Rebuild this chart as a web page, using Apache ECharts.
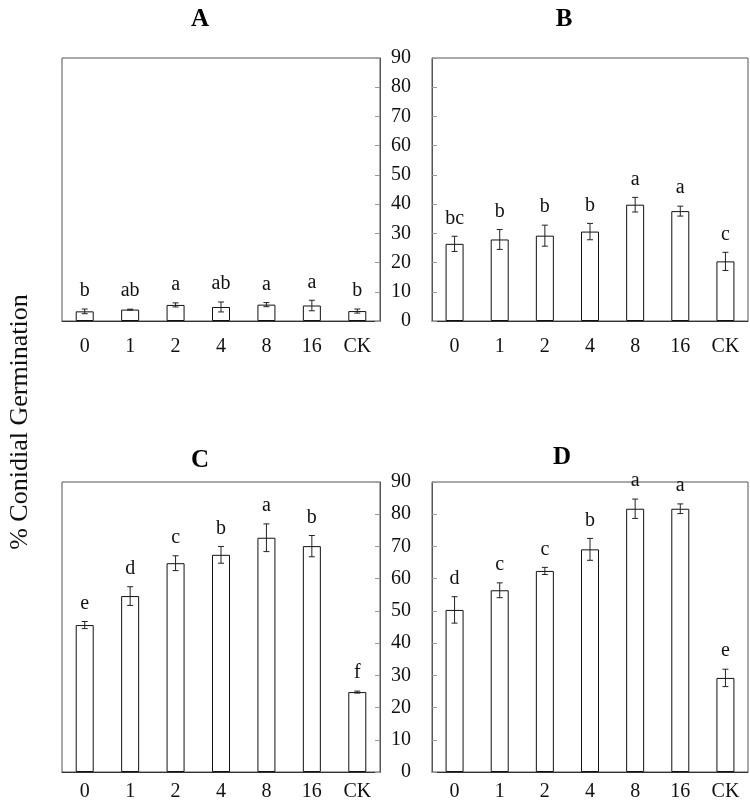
<!DOCTYPE html>
<html><head><meta charset="utf-8">
<script src="https://cdn.jsdelivr.net/npm/echarts@6/dist/echarts.min.js"></script>
<style>html,body{margin:0;padding:0;background:#fff}#c{width:750px;height:810px}</style>
</head><body><div id="c"></div>
<script>
const categories = ['0','1','2','4','8','16','CK'];
const yTicks = [0, 90, 10];

const valuesA = [3.3, 3.9, 5.5, 4.8, 5.6, 5.3, 3.4];
const errorsA = [0.8, 0.15, 0.7, 1.7, 0.7, 1.8, 0.7];
const lettersA = ['b','ab','a','ab','a','a','b'];

const valuesB = [26.4, 27.9, 29.2, 30.6, 39.8, 37.6, 20.4];
const errorsB = [2.6, 3.4, 3.6, 2.8, 2.5, 1.7, 3.1];
const lettersB = ['bc','b','b','b','a','a','c'];

const valuesC = [45.6, 54.6, 64.8, 67.4, 72.7, 70.1, 24.8];
const errorsC = [1.1, 2.9, 2.3, 2.6, 4.3, 3.3, 0.3];
const lettersC = ['e','d','c','b','a','b','f'];

const valuesD = [50.3, 56.4, 62.4, 69.1, 81.7, 81.7, 29.2];
const errorsD = [4.1, 2.3, 1.1, 3.4, 3.0, 1.5, 2.7];
const lettersD = ['d','c','c','b','a','a','e'];

const titles = ['A','B','C','D'];
const yName = '% Conidial Germination';
const FONT = '"Liberation Serif", "DejaVu Serif", serif';

const grids = [
  {left: 62, top: 58, width: 318, height: 263},
  {left: 432, top: 58, width: 316, height: 263},
  {left: 62, top: 482, width: 318, height: 290},
  {left: 432, top: 482, width: 316, height: 290}
];
const titlePos = [[200, 32], [564, 32], [200, 473], [562, 470]];
const labelMargin = [16, 16, 10, 10];
const panels = [
  [valuesA, errorsA, lettersA],
  [valuesB, errorsB, lettersB],
  [valuesC, errorsC, lettersC],
  [valuesD, errorsD, lettersD]
];

function errRender(letters) {
  return function (params, api) {
    const i = api.value(0), v = api.value(1), e = api.value(2);
    const t = api.coord([i, v + e]);
    const b = api.coord([i, v - e]);
    const cap = 3;
    return {
      type: 'group',
      children: [
        {type: 'line', shape: {x1: t[0], y1: t[1], x2: b[0], y2: b[1]}, style: {stroke: '#222', lineWidth: 1}},
        {type: 'line', shape: {x1: t[0] - cap, y1: t[1], x2: t[0] + cap, y2: t[1]}, style: {stroke: '#222', lineWidth: 1}},
        {type: 'line', shape: {x1: b[0] - cap, y1: b[1], x2: b[0] + cap, y2: b[1]}, style: {stroke: '#222', lineWidth: 1}},
        {type: 'text', x: t[0], y: t[1] - 8, style: {text: letters[params.dataIndex], fill: '#111', font: '20px ' + FONT, textAlign: 'center', textVerticalAlign: 'bottom'}}
      ]
    };
  };
}

const option = {
  animation: false,
  backgroundColor: '#fff',
  grid: grids.map(g => Object.assign({show: true, borderColor: '#555', borderWidth: 1, containLabel: false}, g)),
  xAxis: grids.map((g, k) => ({
    type: 'category', gridIndex: k, data: categories,
    axisLine: {lineStyle: {color: '#333', width: 1}},
    axisTick: {inside: true, length: 5, lineStyle: {color: '#999'}},
    axisLabel: {color: '#111', fontFamily: FONT, fontSize: 20, margin: labelMargin[k]}
  })),
  yAxis: grids.map((g, k) => ({
    type: 'value', gridIndex: k, min: yTicks[0], max: yTicks[1], interval: yTicks[2],
    position: (k % 2 === 0) ? 'right' : 'left',
    splitLine: {show: false},
    axisLine: {show: true, lineStyle: {color: '#555'}},
    axisTick: {show: true, inside: true, length: 5, lineStyle: {color: '#999'}},
    axisLabel: {show: k % 2 === 1, color: '#111', fontFamily: FONT, fontSize: 20, margin: 21}
  })),
  series: [],
  graphic: [
    {type: 'text', rotation: Math.PI / 2, x: 20, y: 422,
     style: {text: yName, fill: '#111', font: '26px ' + FONT, textAlign: 'center', textVerticalAlign: 'middle'}}
  ].concat(titlePos.map((p, k) => ({
    type: 'text', x: p[0], y: p[1],
    style: {text: titles[k], fill: '#000', font: 'bold 25px ' + FONT, textAlign: 'center', textVerticalAlign: 'bottom'}
  })))
};

panels.forEach((p, k) => {
  const [vals, errs, letters] = p;
  option.series.push({
    type: 'bar', xAxisIndex: k, yAxisIndex: k, data: vals, barWidth: 18,
    itemStyle: {color: '#fff', borderColor: '#111', borderWidth: 1}
  });
  option.series.push({
    type: 'custom', xAxisIndex: k, yAxisIndex: k,
    data: categories.map((c, i) => [i, vals[i], errs[i]]),
    renderItem: errRender(letters), z: 5
  });
});

const chart = echarts.init(document.getElementById('c'), null, {renderer: 'canvas'});
chart.setOption(option);
</script>
</body></html>
